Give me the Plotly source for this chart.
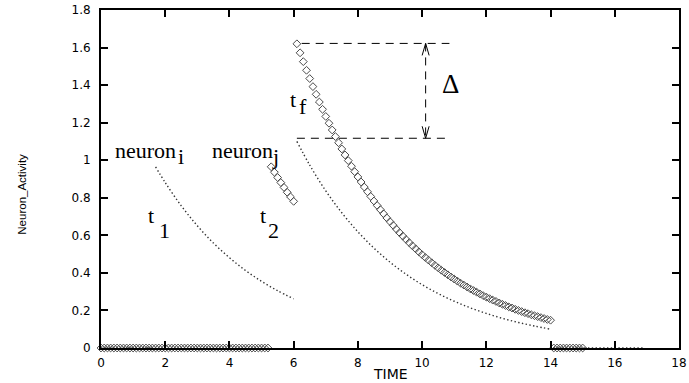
import plotly.graph_objects as go

# ---------------- data ----------------
# neuron_j (diamonds): rest at 0, firing at t2, boosted at tf, back to rest
j_rest1_t = [0.0, 0.1, 0.2, 0.3, 0.4, 0.5, 0.6, 0.7, 0.8, 0.9, 1.0, 1.1, 1.2, 1.3, 1.4, 1.5, 1.6, 1.7,
             1.8, 1.9, 2.0, 2.1, 2.2, 2.3, 2.4, 2.5, 2.6, 2.7, 2.8, 2.9, 3.0, 3.1, 3.2, 3.3, 3.4, 3.5,
             3.6, 3.7, 3.8, 3.9, 4.0, 4.1, 4.2, 4.3, 4.4, 4.5, 4.6, 4.7, 4.8, 4.9, 5.0, 5.1, 5.2]
j_rest1_v = [0.0] * len(j_rest1_t)
j_fire_t = [5.3, 5.4, 5.5, 5.6, 5.7, 5.8, 5.9, 6.0]
j_fire_v = [0.965, 0.936, 0.908, 0.881, 0.855, 0.829, 0.805, 0.781]
j_boost_t = [6.1, 6.2, 6.3, 6.4, 6.5, 6.6, 6.7, 6.8, 6.9, 7.0, 7.1, 7.2, 7.3, 7.4, 7.5, 7.6, 7.7, 7.8,
             7.9, 8.0, 8.1, 8.2, 8.3, 8.4, 8.5, 8.6, 8.7, 8.8, 8.9, 9.0, 9.1, 9.2, 9.3, 9.4, 9.5, 9.6,
             9.7, 9.8, 9.9, 10.0, 10.1, 10.2, 10.3, 10.4, 10.5, 10.6, 10.7, 10.8, 10.9, 11.0, 11.1,
             11.2, 11.3, 11.4, 11.5, 11.6, 11.7, 11.8, 11.9, 12.0, 12.1, 12.2, 12.3, 12.4, 12.5, 12.6,
             12.7, 12.8, 12.9, 13.0, 13.1, 13.2, 13.3, 13.4, 13.5, 13.6, 13.7, 13.8, 13.9, 14.0]
j_boost_v = [1.620, 1.572, 1.525, 1.479, 1.435, 1.392, 1.351, 1.310, 1.271, 1.233, 1.197, 1.161,
             1.126, 1.093, 1.060, 1.028, 0.998, 0.968, 0.939, 0.911, 0.884, 0.857, 0.832, 0.807,
             0.783, 0.759, 0.737, 0.715, 0.693, 0.673, 0.653, 0.633, 0.614, 0.596, 0.578, 0.561,
             0.544, 0.528, 0.512, 0.497, 0.482, 0.468, 0.454, 0.440, 0.427, 0.414, 0.402, 0.390,
             0.378, 0.367, 0.356, 0.345, 0.335, 0.325, 0.315, 0.306, 0.297, 0.288, 0.279, 0.271,
             0.263, 0.255, 0.248, 0.240, 0.233, 0.226, 0.219, 0.213, 0.206, 0.200, 0.194, 0.188,
             0.183, 0.177, 0.172, 0.167, 0.162, 0.157, 0.152, 0.148]
j_rest2_t = [14.1, 14.2, 14.3, 14.4, 14.5, 14.6, 14.7, 14.8, 14.9, 15.0]
j_rest2_v = [0.0] * len(j_rest2_t)

# neuron_i (dotted)
i_rest1_t = [0.0, 1.6]
i_rest1_v = [0.0, 0.0]
i_fire_t = [1.7, 2.0, 2.5, 3.0, 3.5, 4.0, 4.5, 5.0, 5.5, 6.0]
i_fire_v = [0.965, 0.881, 0.757, 0.651, 0.559, 0.481, 0.413, 0.355, 0.305, 0.262]
i_boost_t = [6.1, 6.5, 7.0, 7.5, 8.0, 8.5, 9.0, 9.5, 10.0, 10.5, 11.0, 11.5, 12.0, 12.5, 13.0, 13.5, 14.0]
i_boost_v = [1.10, 0.974, 0.837, 0.720, 0.619, 0.532, 0.457, 0.393, 0.337, 0.290, 0.249, 0.214,
             0.184, 0.158, 0.136, 0.117, 0.100]
i_rest2_t = [14.1, 16.9]
i_rest2_v = [0.0, 0.0]

# Delta markers (levels of the two curves at tf)
delta_top = 1.622
delta_bottom = 1.117
delta_x = 10.11

x_ticks = [0, 2, 4, 6, 8, 10, 12, 14, 16, 18]
y_ticks = [0, 0.2, 0.4, 0.6, 0.8, 1.0, 1.2, 1.4, 1.6, 1.8]
y_tick_text = ["0", "0.2", "0.4", "0.6", "0.8", "1", "1.2", "1.4", "1.6", "1.8"]

# ---------------- figure ----------------
fig = go.Figure()

i_t = i_rest1_t + [None] + i_fire_t + [None] + i_boost_t + [None] + i_rest2_t
i_v = i_rest1_v + [None] + i_fire_v + [None] + i_boost_v + [None] + i_rest2_v
fig.add_trace(go.Scatter(x=i_t, y=i_v, mode="lines", connectgaps=False,
                         line=dict(color="#333333", width=1.4, dash="1.4px,2.4px", shape="spline"),
                         cliponaxis=False, showlegend=False))

for tt, vv in [(j_rest1_t, j_rest1_v), (j_fire_t, j_fire_v), (j_boost_t, j_boost_v), (j_rest2_t, j_rest2_v)]:
    fig.add_trace(go.Scatter(x=tt, y=vv, mode="markers",
                             marker=dict(symbol="diamond-open", size=6, color="#4a4a4a",
                                         line=dict(width=1, color="#4a4a4a")),
                             cliponaxis=False, showlegend=False))

dash_style = "8px,6px"
fig.add_shape(type="line", x0=6.25, x1=10.85, y0=delta_top, y1=delta_top,
              line=dict(color="black", width=1, dash=dash_style))
fig.add_shape(type="line", x0=6.1, x1=10.8, y0=delta_bottom, y1=delta_bottom,
              line=dict(color="black", width=1, dash=dash_style))
fig.add_shape(type="line", x0=delta_x, x1=delta_x, y0=delta_top, y1=delta_bottom,
              line=dict(color="black", width=1, dash=dash_style))
# arrowheads (open V)
fig.add_shape(type="path", xsizemode="pixel", ysizemode="pixel", xanchor=delta_x, yanchor=delta_top,
              path="M-3.5,-12 L0,0 L3.5,-12", line=dict(color="black", width=1))
fig.add_shape(type="path", xsizemode="pixel", ysizemode="pixel", xanchor=delta_x, yanchor=delta_bottom,
              path="M-3.5,12 L0,0 L3.5,12", line=dict(color="black", width=1))

serif = "Liberation Serif, Times New Roman, serif"
def label(txt, x, y, size=22, anchor="left"):
    fig.add_annotation(x=x, y=y, text=txt, showarrow=False, xanchor=anchor, yanchor="middle",
                       font=dict(family=serif, size=size, color="black"))

label("neuron", 0.37, 1.052)
label("i", 2.33, 1.020)
label("neuron", 3.38, 1.052)
label("j", 5.26, 1.020)
label("t", 1.41, 0.708)
label("1", 1.74, 0.628)
label("t", 4.88, 0.708)
label("2", 5.13, 0.628)
label("t", 5.82, 1.323)
label("f", 6.11, 1.286)
label("Δ", 10.87, 1.407, size=27, anchor="center")

fig.add_annotation(xref="paper", yref="paper", x=-0.137, y=0.456, text="Neuron_Activity",
                   textangle=-90, showarrow=False, xanchor="center", yanchor="middle",
                   font=dict(family="Liberation Sans, Arial, sans-serif", size=11.5, color="black"))
fig.add_annotation(xref="paper", yref="paper", x=0.5, y=-0.078, text="TIME",
                   showarrow=False, xanchor="center", yanchor="middle",
                   font=dict(family="DejaVu Sans, sans-serif", size=14, color="black"))

axis_font = dict(family="DejaVu Sans, sans-serif", size=12, color="black")
fig.update_xaxes(range=[0, 18], tickvals=x_ticks, ticktext=[str(v) for v in x_ticks],
                 ticks="inside", ticklen=7, tickwidth=1.5, tickcolor="black",
                 showline=True, linecolor="black", linewidth=2, mirror="ticks",
                 showgrid=False, zeroline=False, tickfont=axis_font, ticklabelstandoff=3,
                 automargin=False)
fig.update_yaxes(range=[0, 1.8], tickvals=y_ticks, ticktext=y_tick_text,
                 ticks="inside", ticklen=7, tickwidth=1.5, tickcolor="black",
                 showline=True, linecolor="black", linewidth=2, mirror="ticks",
                 showgrid=False, zeroline=False, tickfont=axis_font, ticklabelstandoff=6,
                 automargin=False)

fig.update_layout(width=689, height=383, margin=dict(l=101, r=10, t=10, b=35, autoexpand=False),
                  plot_bgcolor="white", paper_bgcolor="white", showlegend=False)

fig.write_html("out.html", config={"displayModeBar": False},
               post_script="document.body.style.margin='0';")
